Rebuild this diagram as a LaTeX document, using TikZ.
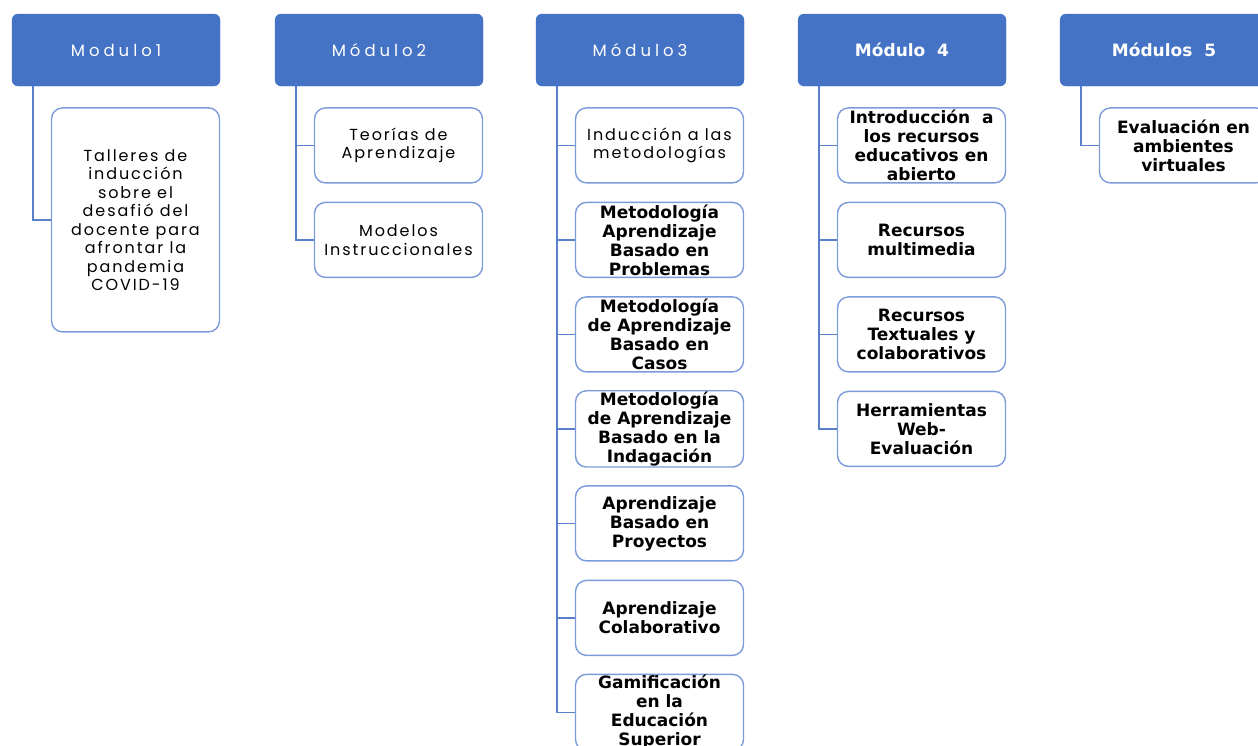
\documentclass[tikz,border=0pt]{standalone}
\usepackage{fontspec}
\setmainfont{Poppins}
\newfontfamily\thinsans[LetterSpace=12]{Poppins}
\newfontfamily\headsans[LetterSpace=24]{Poppins}
\newfontfamily\boldsans{DejaVu Sans}
\usetikzlibrary{positioning}
\definecolor{modblue}{HTML}{4472C4}
\definecolor{edgeblue}{HTML}{7C9BDA}
\definecolor{linkblue}{HTML}{5A7FCB}

\begin{document}
\begin{tikzpicture}[x=1pt, y=1pt, on grid, node distance=94.5pt,
  modhead/.style={draw=modblue, fill=modblue, rounded corners=6pt, minimum width=208pt, minimum height=72pt, text=white, font=\headsans\fontsize{16.5}{18}\selectfont},
  bhead/.style={font=\boldsans\bfseries\fontsize{17}{18}\selectfont},
  topic/.style={draw=edgeblue, line width=1.4pt, fill=white, rounded corners=11pt, minimum width=168pt, minimum height=75pt, align=center, inner sep=1pt, text=black, font=\thinsans\fontsize{16}{18.5}\selectfont},
  btopic/.style={topic, font=\boldsans\bfseries\fontsize{17}{19}\selectfont},
  branch/.style={draw=linkblue, line width=1.6pt}]
\useasboundingbox (0,0) rectangle (1258,-745);
\clip (0,0) rectangle (1258,-745);

% module heads
\node[modhead] (m1) at (116,-50) {Modulo1};
\node[modhead] (m2) at (379,-50) {Módulo2};
\node[modhead] (m3) at (640,-50) {Módulo3};
\node[modhead, bhead] (m4) at (902,-50) {Módulo \ 4};
\node[modhead, bhead] (m5) at (1164,-50) {Módulos \ 5};

% modulo 1
\node[topic, minimum height=224pt, anchor=north east] (c11) at ([yshift=-21pt]m1.south east) {Talleres de\\inducción\\sobre el\\desafió del\\docente para\\afrontar la\\pandemia\\COVID-19};

% modulo 2
\node[topic, anchor=north east] (c21) at ([yshift=-21pt]m2.south east) {Teorías de\\Aprendizaje};
\node[topic] (c22) [below=of c21] {Modelos\\Instruccionales};

% modulo 3
\node[topic, anchor=north east] (c31) at ([yshift=-21pt]m3.south east) {Inducción a las\\metodologías};
\node[btopic] (c32) [below=of c31] {Metodología\\Aprendizaje\\Basado en\\Problemas};
\node[btopic] (c33) [below=of c32] {Metodología\\de Aprendizaje\\Basado en\\Casos};
\node[btopic] (c34) [below=of c33] {Metodología\\de Aprendizaje\\Basado en la\\Indagación};
\node[btopic] (c35) [below=of c34] {Aprendizaje\\Basado en\\Proyectos};
\node[btopic] (c36) [below=of c35] {Aprendizaje\\Colaborativo};
\node[btopic] (c37) [below=of c36] {Gamificación\\en la\\Educación\\Superior};

% modulo 4
\node[btopic, anchor=north east] (c41) at ([yshift=-21pt]m4.south east) {Introducción \ a\\los recursos\\educativos en\\abierto};
\node[btopic] (c42) [below=of c41] {Recursos\\multimedia};
\node[btopic] (c43) [below=of c42] {Recursos\\Textuales y\\colaborativos};
\node[btopic] (c44) [below=of c43] {Herramientas\\Web-\\Evaluación};

% modulo 5
\node[btopic, anchor=north east] (c51) at ([yshift=-21pt]m5.south east) {Evaluación en\\ambientes\\virtuales};

\foreach \h/\c in {m1/c11, m2/c21, m2/c22, m3/c31, m3/c32, m3/c33, m3/c34, m3/c35, m3/c36, m3/c37, m4/c41, m4/c42, m4/c43, m4/c44, m5/c51}
  \draw[branch] ([xshift=21pt]\h.south west) |- (\c.west);
\end{tikzpicture}
\end{document}
